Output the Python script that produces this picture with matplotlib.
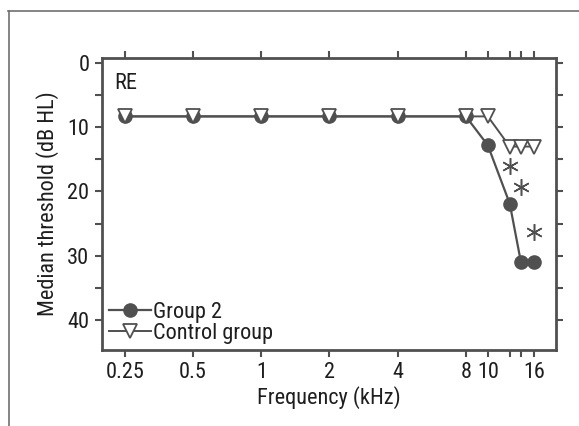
import matplotlib
matplotlib.use("Agg")
import matplotlib.pyplot as plt
from matplotlib import font_manager
from matplotlib.lines import Line2D
from matplotlib.ticker import FixedLocator, NullFormatter, MultipleLocator

# ---- data ----
freqs = [0.25, 0.5, 1, 2, 4, 8, 10, 12.5, 14, 16]
group2 = [8.3, 8.3, 8.3, 8.3, 8.3, 8.3, 12.8, 21.9, 31.0, 31.0]
control = [8.3, 8.3, 8.3, 8.3, 8.3, 8.3, 8.3, 13.0, 13.0, 13.0]
sig_freqs = [12.5, 14, 16]
sig_y = [16.0, 19.3, 26.3]
xtick_vals = [0.25, 0.5, 1, 2, 4, 8, 10, 12.5, 14, 16]
xtick_labels = ["0.25", "0.5", "1", "2", "4", "8", "10", "", "", "16"]
ytick_vals = [0, 10, 20, 30, 40]

names = {f.name for f in font_manager.fontManager.ttflist}
fam = "DejaVu Sans"
for cand in ["Liberation Sans Narrow", "DejaVu Sans Condensed", "Roboto Condensed", "Open Sans Condensed"]:
    if cand in names:
        fam = cand
        break
plt.rcParams["font.family"] = [fam, "DejaVu Sans"]

GRAY = "#505050"
TXT = "#1e1e1e"
fs = 16

fig = plt.figure(figsize=(5.79, 4.26), dpi=100)
ax = fig.add_axes([102/579, 76/426, 454/579, 292/426])

ax.plot(freqs, group2, color=GRAY, lw=1.6, marker="o", ms=9.5,
        mfc=GRAY, mec=GRAY, label="Group 2", zorder=3)
ax.plot(freqs, control, color=GRAY, lw=1.4, marker="v", ms=10,
        mfc="white", mec=GRAY, mew=1.3, label="Control group", zorder=4)
ax.plot(sig_freqs, sig_y, linestyle="none", marker=(6, 2, 0), ms=12,
        mec=GRAY, mew=1.1, zorder=5)

ax.set_xscale("log")
ax.set_xlim(0.198, 20.0)
ax.set_ylim(44.7, -0.8)

ax.xaxis.set_major_locator(FixedLocator(xtick_vals))
ax.set_xticklabels(xtick_labels)
ax.xaxis.set_minor_formatter(NullFormatter())
ax.xaxis.set_minor_locator(FixedLocator([]))
ax.set_yticks(ytick_vals)
ax.yaxis.set_minor_locator(MultipleLocator(5))

ax.tick_params(axis="both", which="both", direction="out", top=True, right=True,
               color=GRAY, width=1.5, labelsize=fs, labelcolor=TXT)
ax.tick_params(axis="both", which="major", length=5, pad=4)
ax.tick_params(axis="both", which="minor", length=5)
for s in ax.spines.values():
    s.set_color(GRAY)
    s.set_linewidth(2)

ax.set_xlabel("Frequency (kHz)", fontsize=fs, color=TXT, labelpad=2)
ax.set_ylabel("Median threshold (dB HL)", fontsize=fs, color=TXT, labelpad=6)

ax.text(0.026, 0.913, "RE", transform=ax.transAxes, fontsize=fs,
        color=TXT, ha="left", va="center")

leg = ax.legend(loc="lower left", bbox_to_anchor=(0.015, 0.02), frameon=False,
                fontsize=fs, handlelength=1.9, handletextpad=0.1,
                labelspacing=0.0, borderpad=0, borderaxespad=0)
for t in leg.get_texts():
    t.set_color(TXT)

# outer frame
fig.add_artist(Line2D([8/579, 1.0], [1 - 10.5/426, 1 - 10.5/426],
                      transform=fig.transFigure, color="#707070", lw=1.2))
fig.add_artist(Line2D([8.5/579, 8.5/579], [0, 1 - 10.5/426],
                      transform=fig.transFigure, color="#707070", lw=1.2))

fig.savefig("out.png", dpi=100)
